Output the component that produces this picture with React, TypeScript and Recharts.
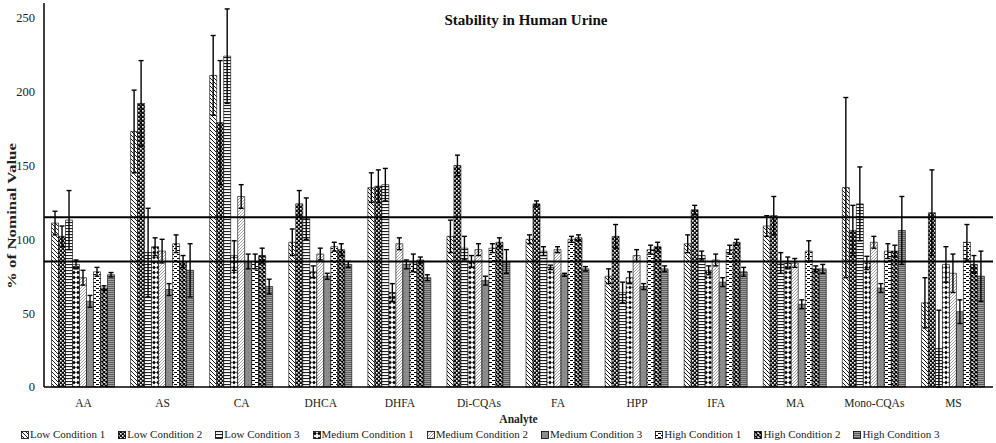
import { BarChart, Bar, XAxis, YAxis, ErrorBar, ReferenceLine, Legend } from "recharts";

const FONT = '"Liberation Serif", "Times New Roman", serif';

const analytes = ["AA", "AS", "CA", "DHCA", "DHFA", "Di-CQAs", "FA", "HPP", "IFA", "MA", "Mono-CQAs", "MS"];

// mean % of nominal value per analyte
const lowCondition1 = [111, 173, 211, 98, 135, 102, 100, 75, 97, 109, 135, 57];
const lowCondition2 = [102, 192, 179, 124, 136, 150, 124, 102, 120, 116, 106, 118];
const lowCondition3 = [113, 91, 224, 114, 137, 94, 92, 64, 89, 84, 124, 26];
const mediumCondition1 = [83, 95, 89, 78, 64, 85, 81, 74, 79, 84, 84, 83];
const mediumCondition2 = [74, 92, 129, 90, 97, 93, 93, 89, 86, 84, 98, 77];
const mediumCondition3 = [58, 66, 85, 75, 83, 72, 76, 68, 71, 56, 67, 51];
const highCondition1 = [78, 97, 85, 95, 84, 94, 100, 93, 93, 92, 92, 98];
const highCondition2 = [67, 85, 89, 93, 86, 98, 101, 95, 98, 80, 92, 83];
const highCondition3 = [76, 79, 68, 83, 74, 85, 80, 80, 78, 80, 106, 75];

// error bar half-widths
const lowCondition1Err = [8, 28, 27, 9, 10, 11, 3, 5, 6, 7, 61, 17];
const lowCondition2Err = [7, 29, 42, 9, 11, 7, 2, 8, 3, 13, 17, 29];
const lowCondition3Err = [20, 30, 32, 14, 11, 8, 3, 7, 3, 7, 25, 26];
const mediumCondition1Err = [3, 6, 10, 4, 6, 4, 1.5, 4, 3, 4, 4.5, 12];
const mediumCondition2Err = [5, 8, 8, 4, 4, 4, 2, 4, 4, 3, 4, 13];
const mediumCondition3Err = [4, 4, 5, 2, 3, 3, 1, 2, 3, 3, 3, 8];
const highCondition1Err = [3, 6, 5, 3, 6, 3, 2, 3, 3, 7, 5, 12];
const highCondition2Err = [1.5, 4, 5, 4, 2, 3, 2, 3, 2, 2, 4, 6];
const highCondition3Err = [1.5, 18, 5, 2, 2, 8, 1.5, 2, 3, 3, 23, 17];

const seriesNames = [
  "Low Condition 1",
  "Low Condition 2",
  "Low Condition 3",
  "Medium Condition 1",
  "Medium Condition 2",
  "Medium Condition 3",
  "High Condition 1",
  "High Condition 2",
  "High Condition 3",
];
const seriesValues = [
  lowCondition1, lowCondition2, lowCondition3,
  mediumCondition1, mediumCondition2, mediumCondition3,
  highCondition1, highCondition2, highCondition3,
];
const seriesErrors = [
  lowCondition1Err, lowCondition2Err, lowCondition3Err,
  mediumCondition1Err, mediumCondition2Err, mediumCondition3Err,
  highCondition1Err, highCondition2Err, highCondition3Err,
];

const yTicks = [0, 50, 100, 150, 200, 250];
const acceptanceLimits = [115, 85];

const chartData = analytes.map((name, i) => {
  const row: Record<string, string | number> = { name };
  seriesValues.forEach((vals, s) => {
    row[`v${s}`] = vals[i];
    row[`e${s}`] = seriesErrors[s][i];
  });
  return row;
});

// hatch fills, roughly like the Excel pattern fills
function Patterns() {
  return (
    <svg width={0} height={0} style={{ position: "absolute" }}>
      <defs>
        <pattern id="pat0" width={4} height={4} patternUnits="userSpaceOnUse">
          <rect width={4} height={4} fill="#fff" />
          <path d="M-1,-1 L5,5 M-1,3 L1,5 M3,-1 L5,1" stroke="#000" strokeWidth={0.9} />
        </pattern>
        <pattern id="pat1" width={4} height={4} patternUnits="userSpaceOnUse">
          <rect width={4} height={4} fill="#111" />
          <rect x={0} y={0} width={1.6} height={1.6} fill="#fff" />
          <rect x={2} y={2} width={1.6} height={1.6} fill="#fff" />
        </pattern>
        <pattern id="pat2" width={4} height={3} patternUnits="userSpaceOnUse">
          <rect width={4} height={3} fill="#fff" />
          <rect x={0} y={0} width={4} height={1.1} fill="#222" />
        </pattern>
        <pattern id="pat3" width={4} height={5} patternUnits="userSpaceOnUse">
          <rect width={4} height={5} fill="#fff" />
          <path d="M2,0.6 L3.8,2.5 L2,4.4 L0.2,2.5 Z" fill="#000" />
        </pattern>
        <pattern id="pat4" width={3} height={3} patternUnits="userSpaceOnUse">
          <rect width={3} height={3} fill="#fff" />
          <path d="M-1,4 L4,-1 M-1,1 L1,-1 M2,4 L4,2" stroke="#8a8a8a" strokeWidth={0.8} />
        </pattern>
        <pattern id="pat5" width={4} height={4} patternUnits="userSpaceOnUse">
          <rect width={4} height={4} fill="#8c8c8c" />
          <rect x={0} y={0} width={1} height={1} fill="#7a7a7a" />
        </pattern>
        <pattern id="pat6" width={6} height={4} patternUnits="userSpaceOnUse">
          <rect width={6} height={4} fill="#fff" />
          <rect x={0} y={0} width={3} height={1} fill="#000" />
          <rect x={3} y={2} width={3} height={1} fill="#000" />
        </pattern>
        <pattern id="pat7" width={4} height={4} patternUnits="userSpaceOnUse">
          <rect width={4} height={4} fill="#fff" />
          <path d="M0,0 L4,4 M4,0 L0,4" stroke="#000" strokeWidth={1.3} />
        </pattern>
        <pattern id="pat8" width={4} height={2} patternUnits="userSpaceOnUse">
          <rect width={4} height={2} fill="#a0a0a0" />
          <rect x={0} y={0} width={4} height={1} fill="#5e5e5e" />
        </pattern>
      </defs>
    </svg>
  );
}

function LegendContent() {
  return (
    <div
      style={{
        display: "flex",
        justifyContent: "flex-start",
        paddingLeft: 21,
        gap: 13,
        fontFamily: FONT,
        fontSize: 11,
        color: "#222",
        lineHeight: "15px",
        whiteSpace: "nowrap",
      }}
    >
      {seriesNames.map((n, i) => (
        <span key={n} style={{ display: "inline-flex", alignItems: "center" }}>
          <svg width={8} height={8} style={{ marginRight: 1 }}>
            <rect x={0.5} y={0.5} width={7} height={7} fill={`url(#pat${i})`} stroke="#000" strokeWidth={0.8} />
          </svg>
          {n}
        </span>
      ))}
    </div>
  );
}

export default function App() {
  return (
    <div style={{ position: "absolute", left: 0, top: 0, width: 996, height: 443, background: "#fff" }}>
      <Patterns />
      <BarChart
        width={996}
        height={443}
        data={chartData}
        margin={{ top: 3, right: 3, left: 0, bottom: 0 }}
        barCategoryGap="9.5%"
        barGap={0}
      >
        <XAxis
          dataKey="name"
          tickLine={false}
          tickSize={6}
          tickMargin={6}
          axisLine={{ stroke: "#000", strokeWidth: 1.5 }}
          tick={{ fontSize: 11.5, fill: "#222", fontFamily: FONT }}
          height={40}
          interval={0}
          label={{
            value: "Analyte",
            position: "insideBottom",
            offset: 4,
            style: { fontFamily: FONT, fontSize: 11.5, fontWeight: "bold", fill: "#222" },
          }}
        />
        <YAxis
          domain={[0, 260]}
          ticks={yTicks}
          tickLine={false}
          tickSize={6}
          tickMargin={3}
          width={44}
          axisLine={{ stroke: "#000", strokeWidth: 1.5 }}
          tick={{ fontSize: 12.5, fill: "#222", fontFamily: FONT }}
        />
        <Legend verticalAlign="bottom" height={16} content={() => <LegendContent />} />
        {seriesNames.map((n, s) => (
          <Bar
            key={n}
            dataKey={`v${s}`}
            name={n}
            fill={`url(#pat${s})`}
            stroke="#000"
            strokeWidth={0.6}
            isAnimationActive={false}
          >
            <ErrorBar dataKey={`e${s}`} width={2.5} stroke="#000" strokeWidth={1.4} direction="y" />
          </Bar>
        ))}
        {acceptanceLimits.map((y) => (
          <ReferenceLine key={y} y={y} stroke="#000" strokeWidth={2} />
        ))}
      </BarChart>
      <div
        style={{
          position: "absolute",
          left: 376,
          top: 12,
          width: 300,
          textAlign: "center",
          fontFamily: FONT,
          fontSize: 15,
          fontWeight: "bold",
          color: "#111",
          lineHeight: "16px",
        }}
      >
        Stability in Human Urine
      </div>
      <div
        style={{
          position: "absolute",
          left: -88,
          top: 208,
          width: 200,
          height: 16,
          transform: "rotate(-90deg) scaleX(1.3)",
          textAlign: "center",
          fontFamily: FONT,
          fontSize: 13,
          fontWeight: "bold",
          color: "#222",
          lineHeight: "16px",
        }}
      >
        % of Nominal Value
      </div>
    </div>
  );
}
